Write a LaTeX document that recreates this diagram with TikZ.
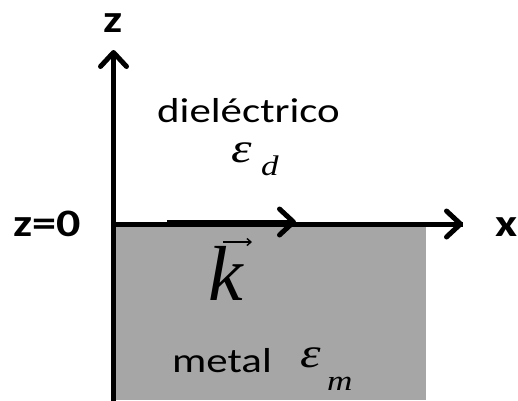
\documentclass[tikz,border=0pt]{standalone}
\usepackage{fontspec}
\setmainfont{Carlito}
\newfontfamily\tms{Liberation Serif}
\usetikzlibrary{arrows.meta}
\definecolor{metalgray}{RGB}{166,166,166}
\newcommand{\stretchtxt}[1]{\scalebox{1.3}[1.05]{#1}}
\tikzset{
  axis/.style={line width=5pt,-{Straight Barb[length=14pt,width=26pt,line width=5pt,round]}},
  lbl/.style={inner sep=0pt,font=\fontsize{37}{40}\selectfont\bfseries},
  txt/.style={inner sep=0pt,font=\fontsize{33}{40}\selectfont},
  sym/.style={inner sep=0pt,font=\fontsize{40}{44}\selectfont\tms\itshape},
  sub/.style={inner sep=0pt,font=\fontsize{27}{32}\selectfont\tms\itshape},
  vecarrow/.style={line width=1.4pt,-{Straight Barb[length=4pt,width=7pt,line width=1.4pt]}}
}
\begin{document}
\begin{tikzpicture}[x=1pt,y=-1pt]
\useasboundingbox (0,0) rectangle (518,400);
\coordinate (O) at (113.5,224);
\coordinate (zend) at (113.5,50);
\coordinate (zbot) at (113.5,402);
\coordinate (xend) at (463,224);
\coordinate (kstart) at (167,222);
\coordinate (kend) at (296,222);
\fill[metalgray] (116,224) rectangle (426,400);
\draw[axis] (zbot) -- (zend);
\draw[line width=5pt] (O) -- (xend);
\draw[axis] (O) -- (xend);
\draw[axis] (kstart) -- (kend);
\node[lbl,anchor=base] (zl) at (113,32) {\stretchtxt{z}};
\node[lbl,anchor=base west] (z0) at (13,236) {\stretchtxt{z=0}};
\node[lbl,anchor=base west] (xl) at (495,236) {\stretchtxt{x}};
\node[txt,anchor=base west] (diel) at (157,122) {\stretchtxt{dieléctrico}};
\node[sym,anchor=base west] (ed) at (231,162) {\stretchtxt{ε}};
\node[sub,anchor=base west] (edsub) at (261,175) {\stretchtxt{d}};
\node[txt,anchor=base west] (met) at (172,372) {\stretchtxt{metal}};
\node[sym,anchor=base west] (em) at (300,367) {\stretchtxt{ε}};
\node[sub,anchor=base west] (emsub) at (327,390) {\stretchtxt{m}};
\node[inner sep=0pt,anchor=base west] (k) at (208,300) {\fontsize{78}{84}\selectfont\tms\itshape k};
\coordinate (va) at (223,242);
\coordinate (vb) at (252,242);
\draw[vecarrow] (va) -- (vb);
\end{tikzpicture}
\end{document}
